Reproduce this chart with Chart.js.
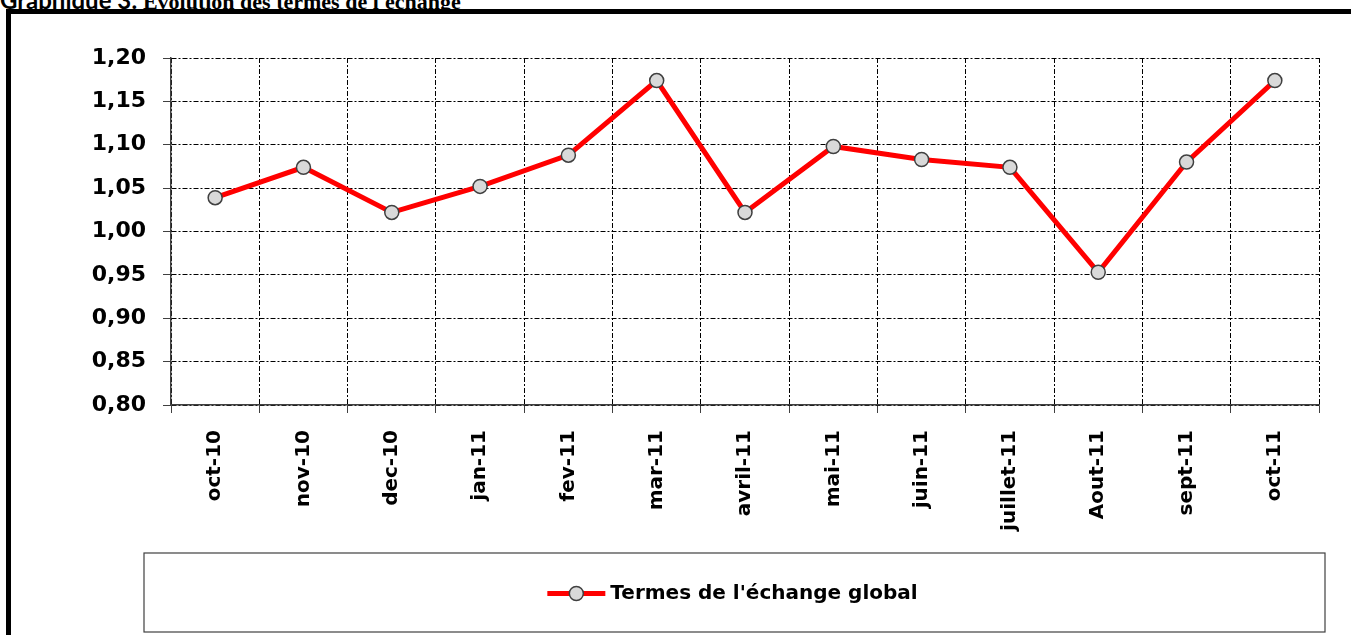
<!DOCTYPE html>
<html>
<head>
<meta charset="utf-8">
<script src="https://cdn.jsdelivr.net/npm/chart.js@4.4.0/dist/chart.umd.min.js"></script>
<style>
  html, body { margin: 0; padding: 0; background: #fff; overflow: hidden; }
  #wrap { position: relative; width: 1351px; height: 635px; }
  #title { position: absolute; left: 0; top: -12px; font-size: 22px; line-height: 24px; white-space: nowrap; }
  #title .a { font-family: "Lato", "DejaVu Sans", sans-serif; font-weight: bold; font-size: 24px; }
  #title .b { font-family: "Liberation Serif", serif; font-weight: bold; font-size: 22px; }
  #frame { position: absolute; left: 6px; top: 9px; width: 1400px; height: 700px;
           border-left: 5px solid #000; border-top: 5px solid #000; }
  canvas { position: absolute; left: 0; top: 0; }
</style>
</head>
<body>
<div id="wrap">
  <div id="title"><span class="a">Graphique 3:</span> <span class="b">Evolution des termes de l'échange</span></div>
  <div id="frame"></div>
  <canvas id="chart" width="1351" height="635"></canvas>
</div>
<script>
const months = ['oct-10', 'nov-10', 'dec-10', 'jan-11', 'fev-11', 'mar-11', 'avril-11',
                'mai-11', 'juin-11', 'juillet-11', 'Aout-11', 'sept-11', 'oct-11'];
const termesEchange = [1.039, 1.074, 1.022, 1.052, 1.088, 1.174, 1.022,
                       1.098, 1.083, 1.074, 0.953, 1.080, 1.174];
const seriesName = "Termes de l'échange global";
const yMin = 0.80, yMax = 1.20, yStep = 0.05;

const boldFont = '"DejaVu Sans", sans-serif';

// legend drawn inside a boxed frame under the axis labels, like the original
const boxedLegend = {
    id: 'boxedLegend',
    afterDraw(chart) {
        const ctx = chart.ctx;
        const ds = chart.data.datasets[0];
        const box = { left: 144, top: 553, right: 1325, bottom: 632 };
        ctx.save();
        ctx.strokeStyle = '#404040';
        ctx.lineWidth = 1.2;
        ctx.strokeRect(box.left, box.top, box.right - box.left, box.bottom - box.top);

        const cy = (box.top + box.bottom) / 2 + 1;
        ctx.font = 'bold 20px ' + boldFont;
        const textW = ctx.measureText(ds.label).width;
        const sampleW = 58, gap = 5;
        const startX = (box.left + box.right) / 2 - (sampleW + gap + textW) / 2 - 2;

        ctx.strokeStyle = ds.borderColor;
        ctx.lineWidth = 5;
        ctx.beginPath();
        ctx.moveTo(startX, cy);
        ctx.lineTo(startX + sampleW, cy);
        ctx.stroke();

        ctx.beginPath();
        ctx.arc(startX + sampleW / 2, cy, ds.pointRadius, 0, Math.PI * 2);
        ctx.fillStyle = ds.pointBackgroundColor;
        ctx.fill();
        ctx.lineWidth = ds.pointBorderWidth;
        ctx.strokeStyle = ds.pointBorderColor;
        ctx.stroke();

        ctx.fillStyle = '#000';
        ctx.textBaseline = 'middle';
        ctx.textAlign = 'left';
        ctx.fillText(ds.label, startX + sampleW + gap, cy);
        ctx.restore();
    }
};

const gridStyle = {
    color: '#000',
    lineWidth: 1,
    tickLength: 8,
    tickBorderDash: [],
    tickColor: '#404040'
};
const axisBorder = { display: true, color: '#404040', width: 1.5, dash: [5, 2, 2, 2] };

new Chart(document.getElementById('chart').getContext('2d'), {
    type: 'line',
    data: {
        labels: months,
        datasets: [{
            label: seriesName,
            data: termesEchange,
            borderColor: '#ff0000',
            borderWidth: 5,
            pointRadius: 7,
            pointHoverRadius: 7,
            pointBackgroundColor: '#d9d9d9',
            pointBorderColor: '#404040',
            pointBorderWidth: 1.5,
            tension: 0
        }]
    },
    options: {
        responsive: false,
        animation: false,
        layout: { padding: { left: 0, right: 32, top: 58, bottom: 90 } },
        plugins: {
            legend: { display: false },
            tooltip: { enabled: false }
        },
        scales: {
            x: {
                offset: true,
                grid: Object.assign({ offset: true }, gridStyle),
                border: axisBorder,
                ticks: {
                    minRotation: 90,
                    maxRotation: 90,
                    autoSkip: false,
                    padding: 17,
                    color: '#000',
                    font: { family: boldFont, size: 20, weight: 'bold' }
                },
                afterFit(scale) { scale.height = 140; }
            },
            y: {
                min: yMin,
                max: yMax,
                grid: gridStyle,
                border: axisBorder,
                ticks: {
                    stepSize: yStep,
                    padding: 17,
                    color: '#000',
                    font: { family: boldFont, size: 22, weight: 'bold' },
                    callback: (v) => v.toFixed(2).replace('.', ',')
                },
                afterFit(scale) { scale.width = 171; }
            }
        }
    },
    plugins: [boxedLegend]
});
</script>
</body>
</html>
